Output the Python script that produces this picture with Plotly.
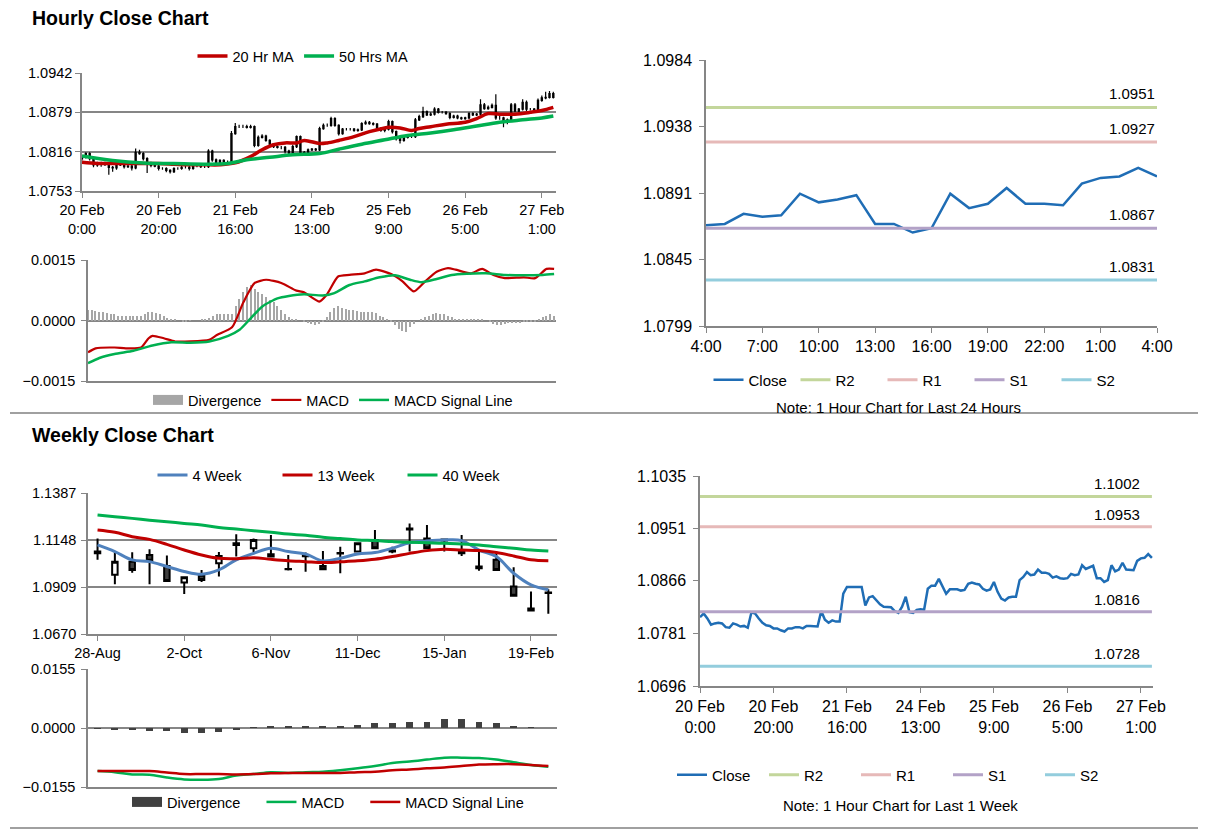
import plotly.graph_objects as go

W, H = 1212, 834
FONT = "Arial, Liberation Sans, sans-serif"
GRID = "#868686"
FS_L = 14.5   # left panels text
FS_R = 16     # right panels tick labels
PAD = "\u00a0\u00a0\u00a0\u00a0"

# ---------------- hourly data (20 Feb 0:00 .. 27 Feb 4:00) ----------------
hr_close = [
    1.0807, 1.0813, 1.0805, 1.0795, 1.0797, 1.0798, 1.0797, 1.0791, 1.0790, 1.0797,
    1.0795, 1.0792, 1.0793, 1.0790, 1.0815, 1.0813, 1.0805, 1.0798, 1.0794, 1.0793,
    1.0789, 1.0789, 1.0786, 1.0784, 1.0789, 1.0789, 1.0791, 1.0791, 1.0789, 1.0793,
    1.0793, 1.0792, 1.0792, 1.0817, 1.0803, 1.0798, 1.0802, 1.0800, 1.0800, 1.0845,
    1.0856, 1.0856, 1.0856, 1.0855, 1.0856, 1.0826, 1.0839, 1.0841, 1.0834, 1.0828,
    1.0824, 1.0823, 1.0823, 1.0817, 1.0814, 1.0824, 1.0840, 1.0815, 1.0814, 1.0819,
    1.0820, 1.0819, 1.0853, 1.0858, 1.0858, 1.0869, 1.0858, 1.0845, 1.0852, 1.0852,
    1.0852, 1.0850, 1.0851, 1.0861, 1.0863, 1.0861, 1.0860, 1.0853, 1.0850, 1.0852,
    1.0864, 1.0848, 1.0837, 1.0834, 1.0839, 1.0840, 1.0840, 1.0867, 1.0872, 1.0880,
    1.0875, 1.0876, 1.0884, 1.0879, 1.0879, 1.0877, 1.0871, 1.0873, 1.0870, 1.0869,
    1.0870, 1.0877, 1.0875, 1.0876, 1.0891, 1.0885, 1.0887, 1.0890, 1.0870, 1.0870,
    1.0864, 1.0867, 1.0891, 1.0881, 1.0884, 1.0895, 1.0884, 1.0884, 1.0883, 1.0898,
    1.0902, 1.0903, 1.0909, 1.0903]
first_open = 1.0805

# wick sizes in pips above / below the candle body
hi_pips = [
    3, 2, 2, 2, 3, 2, 2, 2, 2, 3,
    2, 2, 2, 2, 6, 4, 2, 2, 2, 2,
    2, 2, 2, 2, 2, 2, 2, 2, 2, 2,
    2, 2, 2, 3, 2, 2, 2, 2, 2, 4,
    6, 3, 3, 3, 3, 2, 3, 3, 2, 2,
    2, 2, 2, 2, 2, 3, 2, 2, 2, 2,
    2, 2, 3, 3, 3, 3, 2, 2, 2, 2,
    2, 2, 2, 2, 3, 2, 2, 2, 2, 2,
    3, 2, 2, 2, 2, 2, 2, 3, 3, 8,
    2, 3, 3, 2, 2, 2, 2, 2, 2, 2,
    2, 2, 2, 2, 9, 3, 3, 3, 18, 3,
    2, 2, 3, 3, 2, 5, 3, 2, 2, 3,
    4, 9, 4, 3]
lo_pips = [
    3, 2, 3, 4, 3, 5, 4, 12, 6, 3,
    2, 3, 2, 4, 2, 2, 3, 16, 3, 2,
    3, 2, 3, 3, 2, 2, 2, 2, 3, 2,
    2, 2, 2, 2, 3, 2, 2, 2, 3, 2,
    2, 2, 2, 2, 2, 3, 2, 2, 2, 2,
    2, 2, 3, 4, 3, 2, 2, 3, 3, 2,
    2, 2, 2, 2, 2, 2, 2, 3, 2, 2,
    2, 2, 2, 2, 2, 2, 2, 2, 2, 3,
    2, 3, 3, 5, 2, 2, 2, 2, 2, 2,
    2, 2, 2, 2, 2, 2, 3, 2, 2, 2,
    2, 2, 2, 2, 2, 2, 2, 2, 3, 3,
    9, 4, 2, 2, 2, 2, 3, 2, 2, 2,
    2, 2, 2, 2]

hr_ticks = [0, 20, 40, 60, 80, 100, 120]
hr_ticktext = ["20 Feb<br>0:00", "20 Feb<br>20:00", "21 Feb<br>16:00", "24 Feb<br>13:00",
               "25 Feb<br>9:00", "26 Feb<br>5:00", "27 Feb<br>1:00"]

# moving averages (read at sample hours)
ma20_idx = [0, 4, 8, 12, 16, 20, 24, 28, 32, 36, 40, 44, 47, 50, 53, 56, 58, 62, 64, 67,
            71, 75, 79, 80, 83, 86, 88, 91, 95, 100, 103, 106, 109, 113, 117, 120, 123]
ma20 = [1.0799, 1.0797, 1.0797, 1.0797, 1.0797, 1.0797, 1.0796, 1.0795, 1.0795, 1.0795,
        1.0798, 1.0808, 1.0819, 1.0827, 1.0830, 1.0830, 1.0834, 1.0829, 1.0830, 1.0834,
        1.0840, 1.0848, 1.0854, 1.0855, 1.0854, 1.0850, 1.0853, 1.0856, 1.0860, 1.0863,
        1.0869, 1.0877, 1.0876, 1.0876, 1.0879, 1.0882, 1.0887]
ma50_idx = [0, 8, 16, 24, 32, 38, 43, 49, 55, 62, 67, 73, 79, 85, 91, 97, 103, 109, 115, 120, 123]
ma50 = [1.0809, 1.0802, 1.0798, 1.0797, 1.0796, 1.0797, 1.0803, 1.0807, 1.0811, 1.0813,
        1.0820, 1.0828, 1.0835, 1.0842, 1.0846, 1.0851, 1.0857, 1.0863, 1.0867, 1.0870, 1.0873]

# hourly MACD
macd_idx = [0, 2, 7, 10, 14, 16, 17, 20, 23, 27, 32, 34, 38, 41, 44, 47, 51, 55, 57, 61,
            63, 66, 69, 73, 76, 80, 83, 86, 89, 92, 95, 97, 101, 104, 107, 110, 115, 118, 121, 123]
macd_hr = [-0.00079, -0.00069, -0.00067, -0.00069, -0.00067, -0.00044, -0.00038, -0.00044,
           -0.00052, -0.00052, -0.00048, -0.00036, -0.00017, 0.00045, 0.00093, 0.00101,
           0.00093, 0.00074, 0.00070, 0.00047, 0.00064, 0.00109, 0.00113, 0.00117, 0.00126,
           0.00115, 0.00097, 0.00072, 0.00097, 0.00121, 0.00130, 0.00126, 0.00117, 0.00128,
           0.00113, 0.00105, 0.00107, 0.00105, 0.00128, 0.00128]
sig_idx = [0, 3, 7, 12, 17, 22, 27, 32, 37, 40, 43, 46, 50, 53, 57, 62, 65, 69, 73, 77,
           81, 85, 88, 92, 96, 100, 105, 110, 115, 120, 123]
sig_hr = [-0.00106, -0.00093, -0.00083, -0.00075, -0.00062, -0.00054, -0.00055, -0.00052,
          -0.00038, -0.00023, 0.00006, 0.00035, 0.00055, 0.00061, 0.00065, 0.00062, 0.00068,
          0.00088, 0.00097, 0.00107, 0.00112, 0.00101, 0.00095, 0.00103, 0.00113, 0.00116,
          0.00117, 0.00113, 0.00112, 0.00113, 0.00115]
# divergence, in units of 1e-5
div_hr = [25, 25, 23, 21, 20, 18, 17, 15,
          12, 12, 12, 12, 10, 10, 12,
          17, 21, 21, 18, 15,
          10, 7, 3, 2, 0,
          -2, -2, -1, 0, 0, 2, 3,
          7, 12, 15, 15, 15, 15, 17,
          37, 54, 70, 83,
          87,
          78, 70, 66, 58, 51,
          45, 37, 25, 17, 8,
          4, 2, 0, -4, -7,
          -8, -10, -8, -4,
          8, 21, 31, 35, 31,
          29, 27, 25, 23, 21, 20, 20, 20, 18,
          12, 8, 4, -4, -12,
          -21, -25, -29, -17, -8,
          0, 4, 8, 12,
          17, 18, 17, 15, 12, 8,
          4, 2, 2, 2, 4, 4, 2,
          2, 0, -4, -8,
          -12, -10, -8, -7, -7,
          -5, -5, -4, -4, -4, -2,
          4, 8, 12, 15, 12]

# last 24 hours (26 Feb 4:00 .. 27 Feb 4:00)
d24_ticks = [0, 3, 6, 9, 12, 15, 18, 21, 24]
d24_ticktext = ["4:00", "7:00", "10:00", "13:00", "16:00", "19:00", "22:00", "1:00", "4:00"]
lv24 = {"R2": 1.0951, "R1": 1.0927, "S1": 1.0867, "S2": 1.0831}
lv1w = {"R2": 1.1002, "R1": 1.0953, "S1": 1.0816, "S2": 1.0728}

# ---------------- weekly data ----------------
wk = ["28-Aug", "4-Sep", "11-Sep", "18-Sep", "25-Sep", "2-Oct", "9-Oct", "16-Oct", "23-Oct",
      "30-Oct", "6-Nov", "13-Nov", "20-Nov", "27-Nov", "4-Dec", "11-Dec", "18-Dec", "25-Dec",
      "1-Jan", "8-Jan", "15-Jan", "22-Jan", "29-Jan", "5-Feb", "12-Feb", "19-Feb", "26-Feb"]
wk_open = [1.1089, 1.0971, 1.1038, 1.1072, 1.1016, 1.0932, 1.0966, 1.1030, 1.1131, 1.1106,
           1.1075, 1.1001, 1.1069, 1.1016, 1.1082, 1.1089, 1.1148, 1.1094, 1.1207, 1.1156,
           1.1150, 1.1097, 1.1013, 1.1047, 1.0912, 1.0800, 1.0878]
wk_close = [1.1080, 1.1038, 1.0996, 1.1042, 1.0940, 1.0959, 1.0945, 1.1067, 1.1123, 1.1148,
            1.1064, 1.0999, 1.1065, 1.0999, 1.1079, 1.1131, 1.1106, 1.1089, 1.1202, 1.1106,
            1.1145, 1.1080, 1.1004, 1.0996, 1.0864, 1.0790, 1.0881]
wk_high = [1.1156, 1.1089, 1.1086, 1.1101, 1.1069, 1.0962, 1.0996, 1.1087, 1.1177, 1.1156,
           1.1173, 1.1072, 1.1084, 1.1092, 1.1114, 1.1134, 1.1199, 1.1114, 1.1232, 1.1224,
           1.1156, 1.1173, 1.1101, 1.1089, 1.1010, 1.0886, 1.0898]
wk_low = [1.1047, 1.0923, 1.0982, 1.0923, 1.0935, 1.0874, 1.0935, 1.0962, 1.1064, 1.1084,
          1.1060, 1.0993, 1.0986, 1.0996, 1.0979, 1.1084, 1.1101, 1.1080, 1.1089, 1.1101,
          1.1089, 1.1067, 1.0991, 1.0993, 1.0861, 1.0785, 1.0773]
ma4w = [1.1123, 1.1089, 1.1047, 1.1038, 1.1013, 1.0988, 1.0974, 1.0996, 1.1047, 1.1080,
        1.1106, 1.1089, 1.1077, 1.1042, 1.1055, 1.1077, 1.1084, 1.1106, 1.1134, 1.1143,
        1.1148, 1.1145, 1.1097, 1.1064, 1.0979, 1.0920, 1.0895]
ma13w = [1.1199, 1.1187, 1.1165, 1.1151, 1.1126, 1.1097, 1.1072, 1.1055, 1.1053, 1.1058,
         1.1050, 1.1043, 1.1038, 1.1033, 1.1037, 1.1042, 1.1050, 1.1064, 1.1080, 1.1094,
         1.1101, 1.1097, 1.1094, 1.1084, 1.1067, 1.1047, 1.1042]
ma40w = [1.1275, 1.1266, 1.1258, 1.1249, 1.1241, 1.1232, 1.1224, 1.1212, 1.1204, 1.1195,
         1.1187, 1.1178, 1.1172, 1.1162, 1.1155, 1.1148, 1.1145, 1.1140, 1.1136, 1.1134,
         1.1131, 1.1128, 1.1123, 1.1114, 1.1106, 1.1097, 1.1092]
div_wk = [-0.0002, -0.0003, -0.0006, -0.0007, -0.0009, -0.0013, -0.0013, -0.0010, -0.0005,
          0.0002, 0.0003, 0.0003, 0.0003, 0.0003, 0.0006, 0.0009, 0.0013, 0.0013, 0.0017,
          0.0017, 0.0023, 0.0023, 0.0017, 0.0013, 0.0006, 0.0001, 0.0000]
macd_wk = [-0.0113, -0.0116, -0.0122, -0.0123, -0.0130, -0.0135, -0.0136, -0.0134, -0.0125,
           -0.0121, -0.0116, -0.0118, -0.0116, -0.0115, -0.0111, -0.0106, -0.0100, -0.0092,
           -0.0088, -0.0083, -0.0078, -0.0078, -0.0079, -0.0083, -0.0090, -0.0097, -0.0102]
sig_wk = [-0.0113, -0.0113, -0.0113, -0.0113, -0.0117, -0.0121, -0.0121, -0.0121, -0.0122,
          -0.0121, -0.0119, -0.0118, -0.0118, -0.0118, -0.0118, -0.0116, -0.0115, -0.0111,
          -0.0109, -0.0106, -0.0104, -0.0100, -0.0096, -0.0095, -0.0095, -0.0097, -0.0100]

# ---------------- derived ----------------
n = len(hr_close)
hr_x = list(range(n))
hr_open = [first_open] + hr_close[:-1]
hr_high = [max(o, c) + p * 1e-4 for o, c, p in zip(hr_open, hr_close, hi_pips)]
hr_low = [min(o, c) - p * 1e-4 for o, c, p in zip(hr_open, hr_close, lo_pips)]
d24_close = hr_close[n - 25:]
d24_x = list(range(25))


def dx(x0, x1):
    return [x0 / W, x1 / W]


def dy(y0, y1):
    return [1 - y1 / H, 1 - y0 / H]


def leg(xc, yc, size=FS_L, **kw):
    return dict(orientation="h", x=xc / W, y=1 - yc / H, xanchor="center", yanchor="middle",
                bgcolor="rgba(0,0,0,0)", font=dict(family=FONT, size=size, color="#000"),
                itemwidth=30, tracegroupgap=0, **kw)


def legend_box(name, color, xa, ya, lg):
    # legend-only entry drawn as a wide block, like the spreadsheet legend
    return go.Scatter(x=[None], y=[None], mode="lines", name=name,
                      line=dict(color=color, width=10), xaxis=xa, yaxis=ya, legend=lg)


fig = go.Figure()

# --- hourly candles + MAs (axis 1)
fig.add_trace(go.Candlestick(
    x=hr_x, open=hr_open, high=hr_high, low=hr_low, close=hr_close,
    increasing=dict(line=dict(color="#000", width=1.2), fillcolor="#fff"),
    decreasing=dict(line=dict(color="#000", width=1.2), fillcolor="#000"),
    showlegend=False, xaxis="x", yaxis="y", hoverinfo="skip"))
fig.add_trace(go.Scatter(x=ma20_idx, y=ma20, mode="lines", name="20 Hr MA",
                         line=dict(color="#c00000", width=3.5, shape="spline"),
                         xaxis="x", yaxis="y", legend="legend"))
fig.add_trace(go.Scatter(x=ma50_idx, y=ma50, mode="lines", name="50 Hrs MA",
                         line=dict(color="#00b050", width=3.5, shape="spline"),
                         xaxis="x", yaxis="y", legend="legend"))

# --- hourly MACD (axis 2)
fig.add_trace(go.Bar(x=hr_x, y=[v * 1e-5 for v in div_hr], name="Divergence",
                     marker=dict(color="#a6a6a6", line=dict(width=0)), width=0.35,
                     showlegend=False, xaxis="x2", yaxis="y2"))
fig.add_trace(legend_box("Divergence", "#a6a6a6", "x2", "y2", "legend2"))
fig.add_trace(go.Scatter(x=macd_idx, y=macd_hr, mode="lines", name="MACD",
                         line=dict(color="#c00000", width=2.2, shape="spline", smoothing=0.6),
                         xaxis="x2", yaxis="y2", legend="legend2"))
fig.add_trace(go.Scatter(x=sig_idx, y=sig_hr, mode="lines", name="MACD Signal Line",
                         line=dict(color="#00b050", width=2.5, shape="spline", smoothing=0.6),
                         xaxis="x2", yaxis="y2", legend="legend2"))

# --- last 24 hours (axis 3)
lv_col = {"R2": "#c3d69b", "R1": "#e6b9b8", "S1": "#b3a2c7", "S2": "#93cddd"}
fig.add_trace(go.Scatter(x=d24_x, y=d24_close, mode="lines", name="Close",
                         line=dict(color="#1f6db5", width=2.5),
                         xaxis="x3", yaxis="y3", legend="legend3"))
for k, v in lv24.items():
    fig.add_trace(go.Scatter(x=[d24_x[0], d24_x[-1]], y=[v, v], mode="lines", name=k,
                             line=dict(color=lv_col[k], width=3),
                             xaxis="x3", yaxis="y3", legend="legend3"))

# --- weekly candles + MAs (axis 4)
fig.add_trace(go.Candlestick(
    x=wk, open=wk_open, high=wk_high, low=wk_low, close=wk_close,
    increasing=dict(line=dict(color="#000", width=2), fillcolor="#fff"),
    decreasing=dict(line=dict(color="#000", width=2), fillcolor="#404040"),
    showlegend=False, xaxis="x4", yaxis="y4", hoverinfo="skip"))
fig.add_trace(go.Scatter(x=wk, y=ma4w, mode="lines", name="4 Week",
                         line=dict(color="#4f81bd", width=3, shape="spline"),
                         xaxis="x4", yaxis="y4", legend="legend4"))
fig.add_trace(go.Scatter(x=wk, y=ma13w, mode="lines", name="13 Week",
                         line=dict(color="#c00000", width=3, shape="spline"),
                         xaxis="x4", yaxis="y4", legend="legend4"))
fig.add_trace(go.Scatter(x=wk, y=ma40w, mode="lines", name="40 Week",
                         line=dict(color="#00b050", width=3, shape="spline"),
                         xaxis="x4", yaxis="y4", legend="legend4"))

# --- weekly MACD (axis 5)
fig.add_trace(go.Bar(x=wk, y=div_wk, name="Divergence",
                     marker=dict(color="#404040", line=dict(width=0)), width=0.4,
                     showlegend=False, xaxis="x5", yaxis="y5"))
fig.add_trace(legend_box("Divergence" + PAD, "#404040", "x5", "y5", "legend5"))
fig.add_trace(go.Scatter(x=wk, y=macd_wk, mode="lines", name="MACD" + PAD,
                         line=dict(color="#00b050", width=2.5, shape="spline"),
                         xaxis="x5", yaxis="y5", legend="legend5"))
fig.add_trace(go.Scatter(x=wk, y=sig_wk, mode="lines", name="MACD Signal Line",
                         line=dict(color="#c00000", width=2.5, shape="spline"),
                         xaxis="x5", yaxis="y5", legend="legend5"))

# --- last week hourly (axis 6)
fig.add_trace(go.Scatter(x=hr_x, y=hr_close, mode="lines", name="Close",
                         line=dict(color="#1f6db5", width=2.5),
                         xaxis="x6", yaxis="y6", legend="legend6"))
for k, v in lv1w.items():
    fig.add_trace(go.Scatter(x=[hr_x[0], hr_x[-1]], y=[v, v], mode="lines", name=k,
                             line=dict(color=lv_col[k], width=3),
                             xaxis="x6", yaxis="y6", legend="legend6"))

tickfont = dict(family=FONT, size=FS_L, color="#000")
tickfont_r = dict(family=FONT, size=FS_R, color="#000")
base_y = dict(showline=True, linecolor=GRID, linewidth=1.5, ticks="outside", ticklen=5,
              tickcolor=GRID, tickfont=tickfont, tickformat=".4f", zeroline=False,
              fixedrange=True, automargin=False)
base_x = dict(showline=True, linecolor=GRID, linewidth=1.5, ticks="outside", ticklen=5,
              tickcolor=GRID, tickfont=tickfont, showgrid=False, zeroline=False,
              rangeslider=dict(visible=False), fixedrange=True, automargin=False)

annotations = [
    dict(text="<b>Hourly Close Chart</b>", x=30 / W, y=1 - 18 / H, xref="paper", yref="paper",
         xanchor="left", yanchor="middle", showarrow=False, font=dict(family=FONT, size=19.5)),
    dict(text="<b>Weekly Close Chart</b>", x=30 / W, y=1 - 435 / H, xref="paper", yref="paper",
         xanchor="left", yanchor="middle", showarrow=False, font=dict(family=FONT, size=19.5)),
    dict(text="Note: 1 Hour Chart for Last 24 Hours", x=898 / W, y=1 - 407 / H, xref="paper",
         yref="paper", xanchor="center", yanchor="middle", showarrow=False,
         font=dict(family=FONT, size=15, color="#000")),
    dict(text="Note: 1 Hour Chart for Last 1 Week", x=900 / W, y=1 - 805 / H, xref="paper",
         yref="paper", xanchor="center", yanchor="middle", showarrow=False,
         font=dict(family=FONT, size=15, color="#000")),
]
for v in lv24.values():
    annotations.append(dict(text=f"{v:.4f}", x=d24_x[-1], y=v, xref="x3", yref="y3",
                            xanchor="right", yanchor="bottom", yshift=3, showarrow=False,
                            font=dict(family=FONT, size=15, color="#000")))
for v in lv1w.values():
    annotations.append(dict(text=f"{v:.4f}", x=hr_x[-1], y=v, xref="x6", yref="y6",
                            xanchor="right", yanchor="bottom", yshift=2, xshift=-10,
                            showarrow=False, font=dict(family=FONT, size=15, color="#000")))

shapes = [
    dict(type="line", xref="paper", yref="paper", x0=10 / W, x1=1198 / W,
         y0=1 - 413 / H, y1=1 - 413 / H, line=dict(color="#a0a0a0", width=2)),
    dict(type="line", xref="paper", yref="paper", x0=10 / W, x1=1198 / W,
         y0=1 - 828 / H, y1=1 - 828 / H, line=dict(color="#a0a0a0", width=2)),
]

fig.update_layout(
    width=W, height=H, margin=dict(l=0, r=0, t=0, b=0, autoexpand=False),
    paper_bgcolor="#fff", plot_bgcolor="#fff",
    font=dict(family=FONT, size=FS_L, color="#000"),
    showlegend=True, bargap=0, boxgap=0.55,
    xaxis=dict(base_x, domain=dx(82, 556), anchor="y", range=[0, 123.7],
               tickvals=hr_ticks, ticktext=hr_ticktext),
    yaxis=dict(base_y, domain=dy(73, 191), anchor="x", range=[1.0753, 1.0942],
               tickvals=[1.0753, 1.0816, 1.0879, 1.0942], showgrid=True,
               gridcolor=GRID, gridwidth=2),
    xaxis2=dict(base_x, domain=dx(88, 556), anchor="y2", range=[0, 123.5],
                showticklabels=False, ticks="", linewidth=2),
    yaxis2=dict(base_y, domain=dy(260, 381), anchor="x2", range=[-0.0015, 0.0015],
                tickvals=[-0.0015, 0, 0.0015], showgrid=True, gridcolor=GRID, gridwidth=2,
                ticklabelstandoff=3),
    xaxis3=dict(base_x, domain=dx(706, 1157), anchor="y3", range=[0, 24],
                tickvals=d24_ticks, ticktext=d24_ticktext, tickfont=tickfont_r),
    yaxis3=dict(base_y, domain=dy(60, 326), anchor="x3", range=[1.0799, 1.0984],
                tickvals=[1.0799, 1.0845, 1.0891, 1.0938, 1.0984], showgrid=False,
                tickfont=tickfont_r, ticklabelstandoff=4),
    xaxis4=dict(base_x, domain=dx(88, 557), anchor="y4", type="category",
                range=[-0.55, 26.5], tickvals=wk[::5], linewidth=2),
    yaxis4=dict(base_y, domain=dy(493, 634), anchor="x4", range=[1.0670, 1.1387],
                tickvals=[1.0670, 1.0909, 1.1148, 1.1387], showgrid=True,
                gridcolor=GRID, gridwidth=2, ticklabelstandoff=2),
    xaxis5=dict(base_x, domain=dx(88, 557), anchor="y5", type="category",
                range=[-0.55, 26.5], showticklabels=False, ticks="", linewidth=2),
    yaxis5=dict(base_y, domain=dy(669, 787), anchor="x5", range=[-0.0155, 0.0155],
                tickvals=[-0.0155, 0, 0.0155], showgrid=True, gridcolor=GRID, gridwidth=2,
                ticklabelstandoff=3),
    xaxis6=dict(base_x, domain=dx(700, 1153), anchor="y6", range=[0, 123.3],
                tickvals=hr_ticks, ticktext=hr_ticktext, tickfont=tickfont_r),
    yaxis6=dict(base_y, domain=dy(476, 686), anchor="x6", range=[1.0696, 1.1035],
                tickvals=[1.0696, 1.0781, 1.0866, 1.0951, 1.1035], showgrid=False,
                tickfont=tickfont_r, ticklabelstandoff=4),
    legend=leg(303, 56),
    legend2=leg(333, 400),
    legend3=leg(926, 380, size=15, entrywidth=42, entrywidthmode="pixels"),
    legend4=leg(340, 475, entrywidth=80, entrywidthmode="pixels"),
    legend5=leg(328, 802),
    legend6=leg(902, 775, size=15, entrywidth=47, entrywidthmode="pixels"),
    annotations=annotations,
    shapes=shapes,
)

fig.write_html("out.html", config={"displayModeBar": False},
               post_script="document.body.style.margin='0px';")
